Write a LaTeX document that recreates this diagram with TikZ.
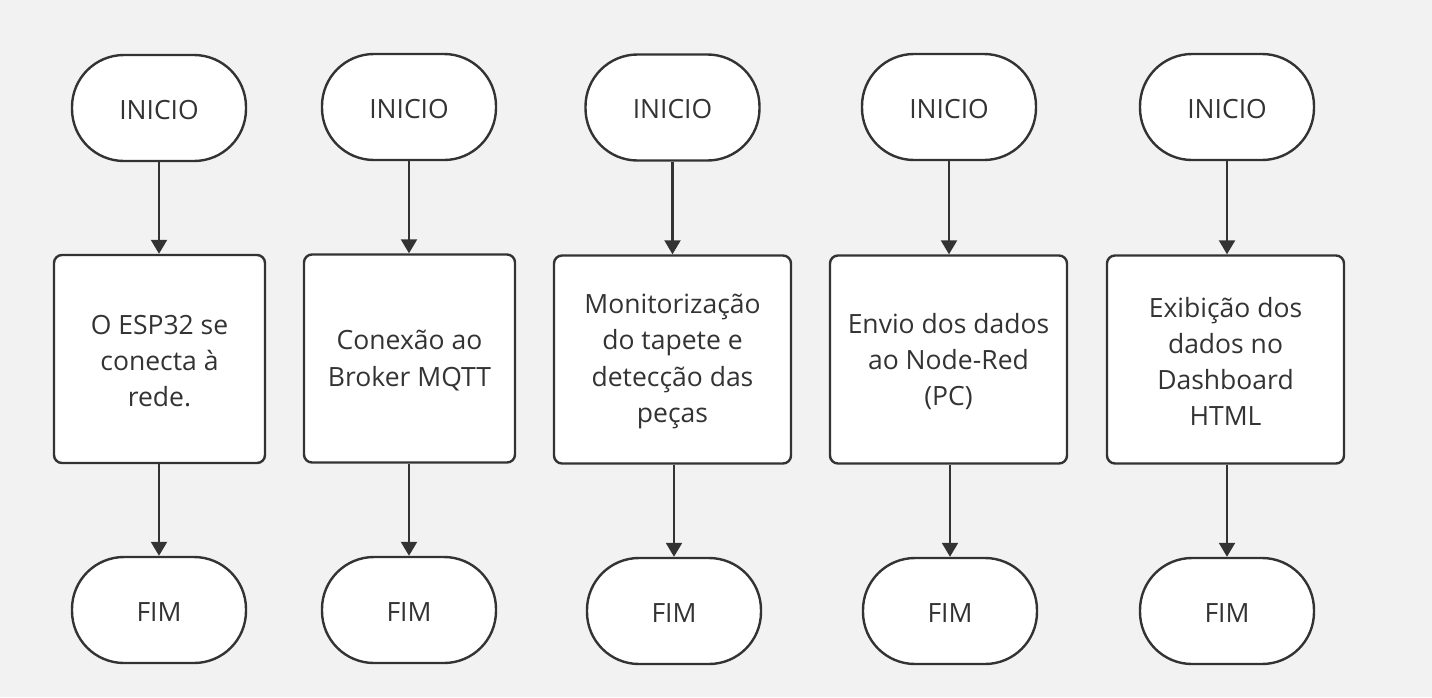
\documentclass[tikz,border=0pt]{standalone}
\usepackage{fontspec}
\setmainfont{Open Sans}
\usetikzlibrary{arrows.meta}
\definecolor{bg}{HTML}{F2F2F2}
\definecolor{ink}{HTML}{333333}
\begin{document}
\begin{tikzpicture}[x=1pt,y=-1pt,
  term/.style={draw=ink,fill=white,line width=2.4pt,rounded corners=52pt,minimum width=174pt,minimum height=106pt,inner sep=0pt},
  termtext/.style={text=ink,font=\fontsize{26.5}{36}\selectfont,inner sep=0pt},
  boxtext/.style={text=ink,font=\fontsize{26.5}{36.2}\selectfont,inner sep=0pt,align=center},
  procbox/.style={draw=ink,fill=white,line width=2.4pt,rounded corners=8pt,minimum height=208pt,inner sep=0pt},
  conn/.style={draw=ink,line width=2.2pt,-{Triangle[width=16pt,length=14pt]}}]
\useasboundingbox[fill=bg] (0,0) rectangle (1432,697);
% column 1
\node[term] (s1) at (159,108) {};
\node[procbox,minimum width=211pt] (p1) at (159.5,359) {};
\node[term] (e1) at (159,610) {};
% column 2
\node[term] (s2) at (409,107) {};
\node[procbox,minimum width=211pt] (p2) at (409.5,358.5) {};
\node[term] (e2) at (409,610) {};
% column 3
\node[term] (s3) at (672.5,107.5) {};
\node[procbox,minimum width=237pt] (p3) at (672.5,359.5) {};
\node[term] (e3) at (674,611) {};
% column 4
\node[term] (s4) at (949,107) {};
\node[procbox,minimum width=237pt] (p4) at (948.5,359.5) {};
\node[term] (e4) at (950,611) {};
% column 5
\node[term] (s5) at (1227,107) {};
\node[procbox,minimum width=237pt] (p5) at (1225.5,359.5) {};
\node[term] (e5) at (1227,611) {};
% texts
\foreach \i in {1,...,5}{
  \node[termtext] (ts\i) at ([yshift=-1.8pt]s\i.center) {INICIO};
  \node[termtext] (te\i) at ([yshift=-1.8pt]e\i.center) {FIM};
}
\node[boxtext] (tp1) at ([yshift=-2pt]p1.center) {O ESP32 se\\conecta à\\rede.};
\node[boxtext] (tp2) at ([yshift=-2pt]p2.center) {Conexão ao\\Broker MQTT};
\node[boxtext] (tp3) at ([yshift=-2pt]p3.center) {Monitorização\\do tapete e\\detecção das\\peças};
\node[boxtext] (tp4) at ([yshift=-2pt]p4.center) {Envio dos dados\\ao Node-Red\\(PC)};
\node[boxtext] (tp5) at ([yshift=-2pt]p5.center) {Exibição dos\\dados no\\Dashboard\\HTML};
% connectors
\foreach \i in {1,...,5}{
  \draw[conn] (s\i.south) -- (s\i.south |- p\i.north);
  \draw[conn] (e\i.north |- p\i.south) -- (e\i.north);
}
\end{tikzpicture}
\end{document}
